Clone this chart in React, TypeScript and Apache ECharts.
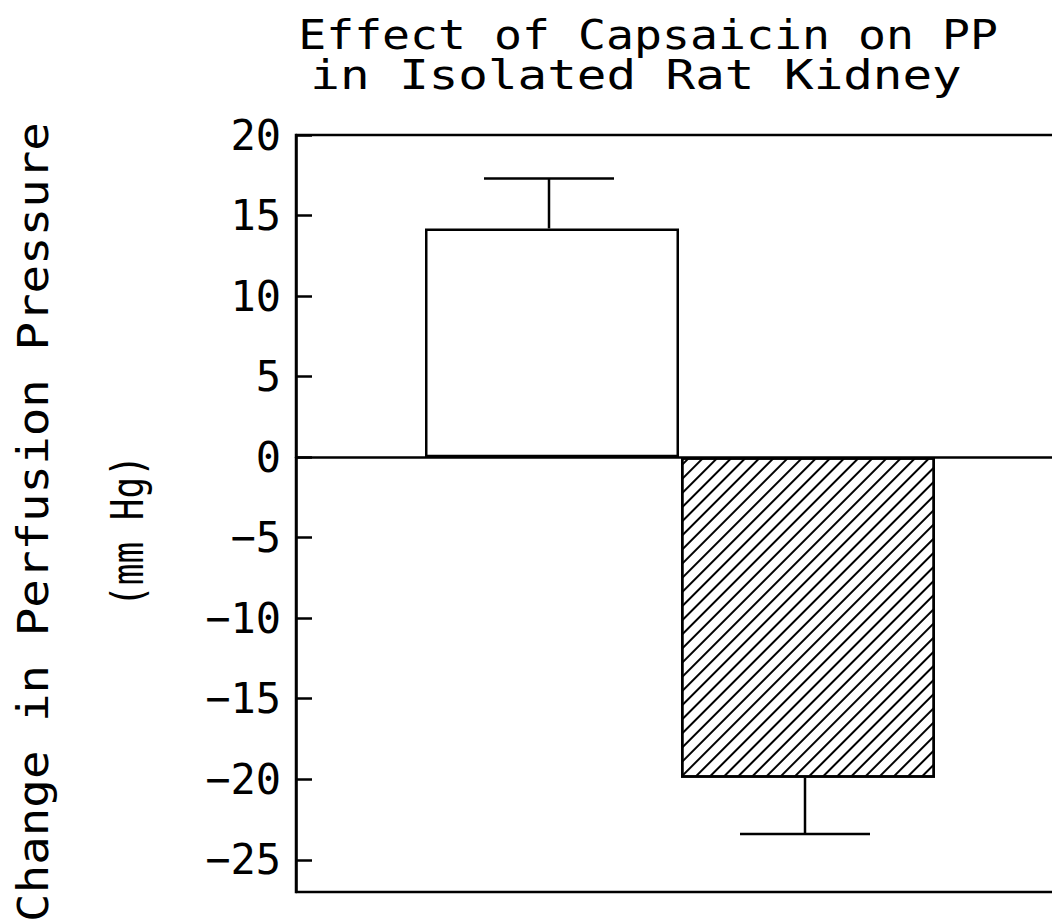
import React, { useEffect, useRef } from "react";
import * as echarts from "echarts";

const categories = ["Control", "Capsaicin"];
const means = [14.2, -19.9];
const errors = [3.1, 3.5];
const yMin = -27;
const yMax = 20;
const yTicks = [-25, -20, -15, -10, -5, 0, 5, 10, 15, 20];
const titleLines = ["Effect of Capsaicin on PP", "in Isolated Rat Kidney"];
const yAxisTitle = "Change in Perfusion Pressure";
const yAxisUnit = "(mm Hg)";

const FONT = '"DejaVu Sans Mono", monospace';

const CHART_W = 1070;
const GRID_LEFT = 296;
const GRID_RIGHT = 6;

export default function App() {
  const ref = useRef<HTMLDivElement>(null);

  useEffect(() => {
    if (!ref.current) return;
    const chart = echarts.init(ref.current, undefined, { renderer: "svg" });

    const barData = categories.map((name, i) => ({
      name,
      value: [i + 1, means[i]],
      itemStyle:
        i === 0
          ? { color: "#ffffff", borderColor: "#000", borderWidth: 2.5 }
          : {
              color: "#ffffff",
              borderColor: "#000",
              borderWidth: 2.5,
              decal: {
                symbol: "rect",
                symbolSize: 1,
                color: "#000",
                backgroundColor: "#ffffff",
                dashArrayX: [1, 0],
                dashArrayY: [2, 7.2],
                rotation: -Math.PI / 4,
              },
            },
    }));

    const errData = categories.map((name, i) => ({
      name,
      value: [i + 1, means[i], errors[i]],
    }));

    const textStyle = (text: string, size: number) => ({
      text,
      font: `${size}px ${FONT}`,
      fill: "#000",
      align: "center",
      verticalAlign: "middle",
      textAlign: "center",
      textVerticalAlign: "middle",
    });

    chart.setOption({
      animation: false,
      backgroundColor: "#ffffff",
      grid: {
        left: GRID_LEFT,
        right: GRID_RIGHT,
        top: 135,
        bottom: 30,
        show: true,
        borderColor: "#000",
        borderWidth: 2.5,
        backgroundColor: "transparent",
      },
      xAxis: {
        type: "value",
        min: 0,
        max: 3,
        axisLine: { show: true, onZero: true, lineStyle: { color: "#000", width: 2.5 } },
        axisTick: { show: false },
        axisLabel: { show: false },
        splitLine: { show: false },
      },
      yAxis: {
        type: "value",
        min: yMin,
        max: yMax,
        position: "left",
        axisLine: { show: true, onZero: false, lineStyle: { color: "#000", width: 2.5 } },
        axisTick: {
          show: true,
          inside: true,
          length: 16,
          customValues: yTicks,
          lineStyle: { color: "#000", width: 2.5 },
        },
        axisLabel: {
          show: true,
          customValues: yTicks,
          margin: 15,
          color: "#000",
          fontSize: 42,
          fontFamily: FONT,
          formatter: (v: number) => String(v).replace("-", "\u2212"),
        },
        splitLine: { show: false },
      },
      graphic: [
        { type: "text", x: 648, y: 35, scaleX: 1.134, style: textStyle(titleLines[0], 41) },
        { type: "text", x: 636, y: 75, scaleX: 1.2, style: textStyle(titleLines[1], 41) },
        { type: "text", x: 33, y: 522, rotation: Math.PI / 2, scaleX: 1.13, style: textStyle(yAxisTitle, 42) },
        { type: "text", x: 128, y: 531, rotation: Math.PI / 2, scaleX: 0.82, style: textStyle(yAxisUnit, 44) },
      ],
      series: [
        {
          type: "bar",
          barWidth: 254,
          data: barData,
          z: 2,
        },
        {
          type: "custom",
          z: 3,
          data: errData,
          renderItem: (params: any, api: any) => {
            const x = api.value(0);
            const m = api.value(1);
            const e = api.value(2);
            const base = api.coord([x, m]);
            const tip = api.coord([x, m + Math.sign(m) * e]);
            const half = 65;
            const st = { stroke: "#000", lineWidth: 2.5 };
            return {
              type: "group",
              children: [
                { type: "line", shape: { x1: base[0] - 3, y1: base[1], x2: tip[0] - 3, y2: tip[1] }, style: st },
                { type: "line", shape: { x1: tip[0] - 3 - half, y1: tip[1], x2: tip[0] - 3 + half, y2: tip[1] }, style: st },
              ],
            };
          },
        },
      ],
    });

    return () => chart.dispose();
  }, []);

  return (
    <div
      style={{ position: "absolute", left: 0, top: 0, width: 1052, height: 922, overflow: "hidden", background: "#fff" }}
    >
      <div ref={ref} style={{ width: CHART_W, height: 922 }} />
    </div>
  );
}
